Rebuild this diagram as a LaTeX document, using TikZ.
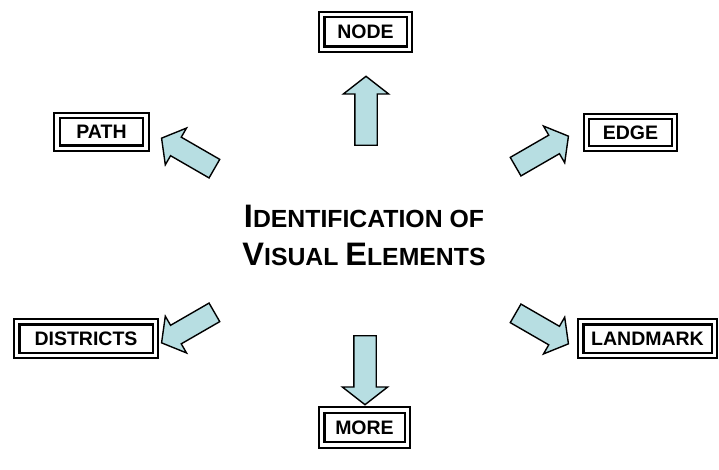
\documentclass[tikz,border=0pt]{standalone}
\usepackage{fontspec}
\setmainfont{Liberation Sans}
\usetikzlibrary{shapes.arrows}
\definecolor{arrowfill}{RGB}{183,222,226}
\newcommand{\BigL}[1]{{\fontsize{32.5}{38}\selectfont #1}}
\newcommand{\SmL}[1]{{\fontsize{24.8}{38}\selectfont #1}}
\tikzset{
  labelbox/.style={draw=black, line width=2.1pt, double=white, double distance=3.3pt,
    fill=white, inner sep=0pt, font=\fontsize{19.5}{21}\selectfont\bfseries,
    rectangle},
  blockarrow/.style={single arrow, draw=black, line width=1.4pt, fill=arrowfill,
    inner xsep=0pt, anchor=tail},
  vertarrow/.style={blockarrow, inner ysep=10.5pt, single arrow head extend=11.5pt,
    single arrow tip angle=104, minimum height=69pt},
  diagarrow/.style={blockarrow, inner ysep=10pt, single arrow head extend=10.5pt,
    single arrow tip angle=104, minimum height=61pt},
  titletext/.style={font=\bfseries, anchor=base, inner sep=0pt}
}
\begin{document}
\begin{tikzpicture}[x=1pt,y=-1pt]
\useasboundingbox (0,0) rectangle (719,470);
% title
\node[titletext] (t1) at (364,227) {\BigL{I}\SmL{DENTIFICATION OF}};
\node[titletext] (t2) at (364,265) {\BigL{V}\SmL{ISUAL }\BigL{E}\SmL{LEMENTS}};
% boxes
\node[labelbox, minimum width=87.5pt, minimum height=34.5pt] (node) at (365.5,32) {NODE};
\node[labelbox, minimum width=89pt, minimum height=32.5pt] (path) at (101.5,132) {PATH};
\node[labelbox, minimum width=88pt, minimum height=32pt] (edge) at (630.5,132.5) {EDGE};
\node[labelbox, minimum width=138.5pt, minimum height=33.5pt] (districts) at (86,338.5) {DISTRICTS};
\node[labelbox, minimum width=133.5pt, minimum height=33.5pt] (landmark) at (647.5,338.5) {LANDMARK};
\node[labelbox, minimum width=85.5pt, minimum height=35pt] (more) at (364.5,427.5) {MORE};
% arrows
\node[vertarrow, rotate=90] (aup) at (366,146) {};
\node[vertarrow, rotate=-90] (adown) at (365,335) {};
\node[diagarrow, rotate=150] (apath) at (215,169) {};
\node[diagarrow, rotate=30] (aedge) at (515,167) {};
\node[diagarrow, rotate=210] (adist) at (215,312) {};
\node[diagarrow, rotate=-30] (aland) at (515,313) {};
\end{tikzpicture}
\end{document}
